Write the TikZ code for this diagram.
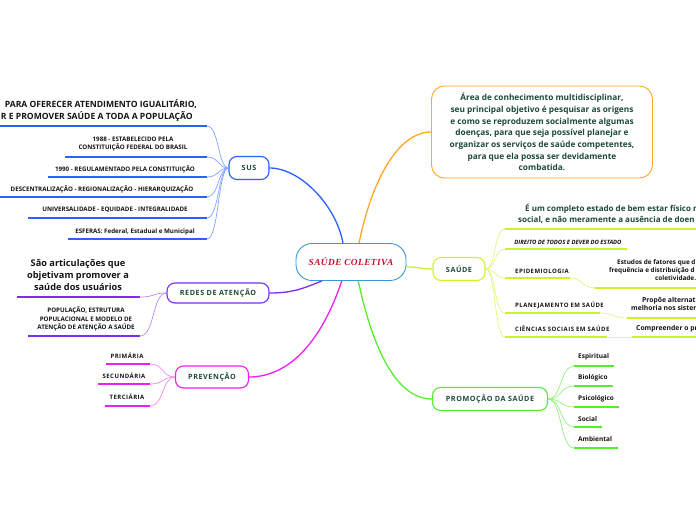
\documentclass[tikz,border=0pt]{standalone}
\usepackage{fontspec}
\setmainfont{Open Sans}
\newfontfamily\capsfont[LetterSpace=8]{Open Sans}
\newfontfamily\titlefont[LetterSpace=5]{Liberation Serif}
\definecolor{susblue}{HTML}{2B5FFF}
\definecolor{suslight}{HTML}{86A3FF}
\definecolor{redpurple}{HTML}{7A2EF0}
\definecolor{redlight}{HTML}{B48CF7}
\definecolor{prevmag}{HTML}{EE1EEE}
\definecolor{prevlight}{HTML}{F58CF5}
\definecolor{defnorange}{HTML}{FFA726}
\definecolor{saulime}{HTML}{CCF22A}
\definecolor{saulight}{HTML}{E0F77E}
\definecolor{promgreen}{HTML}{55EE2E}
\definecolor{promlight}{HTML}{96F27D}
\definecolor{rootblue}{HTML}{3C97D9}
\definecolor{rootred}{HTML}{C8102E}
\definecolor{deepgreen}{HTML}{1D4A38}
\definecolor{itemink}{HTML}{141414}

\begin{document}
\begin{tikzpicture}[x=1pt,y=-1pt,
  root/.style={draw=rootblue,line width=0.9pt,rounded corners=16pt,minimum width=110pt,minimum height=37pt,text=rootred,font=\titlefont\bfseries\itshape\fontsize{9.3}{11}\selectfont},
  topic/.style={rounded corners=8pt,line width=1.1pt,minimum height=22pt,inner xsep=2pt,text=deepgreen,font=\capsfont\bfseries\fontsize{7.2}{9}\selectfont},
  item/.style={text=itemink,align=center,inner sep=0pt,font=\bfseries\fontsize{6.2}{8.5}\selectfont},
  capsitem/.style={item,font=\capsfont\bfseries\fontsize{6}{8}\selectfont},
  leaf/.style={item,anchor=west,font=\bfseries\fontsize{6.5}{8}\selectfont},
  big/.style={text=deepgreen,align=center,inner sep=0pt,font=\bfseries\fontsize{8.6}{12.5}\selectfont},
  ul/.style={line width=1.8pt,draw=#1},
  br/.style={line width=0.7pt,draw=#1},
  main/.style={line width=1.3pt,draw=#1}]

\path[use as bounding box,fill=white] (0,0) rectangle (696,520);

% centre and main topics
\node[root] (root) at (351,262) {SAÚDE COLETIVA};
\node[topic,draw=susblue,minimum width=40pt,minimum height=23pt] (sus) at (249,168) {SUS};
\node[topic,draw=redpurple,minimum width=102pt,minimum height=20pt] (redes) at (218,293) {REDES DE ATENÇÃO};
\node[topic,draw=prevmag,minimum width=73pt] (prev) at (212,377) {PREVENÇÃO};
\node[topic,draw=saulime,minimum width=52pt,minimum height=23pt] (saude) at (459,269) {SAÚDE};
\node[topic,draw=promgreen,minimum width=115pt,minimum height=23pt] (promo) at (490,399) {PROMOÇÃO DA SAÚDE};
\node[big,draw=defnorange,line width=0.9pt,rounded corners=13pt,minimum width=221pt,minimum height=92pt,font=\bfseries\fontsize{8.3}{11.7}\selectfont] (defn) at (542,132)
  {Área de conhecimento multidisciplinar,\\seu principal objetivo é pesquisar as origens\\e como se reproduzem socialmente algumas\\doenças, para que seja possível planejar e\\organizar os serviços de saúde competentes,\\para que ela possa ser devidamente\\combatida.};

\draw[main=susblue] (root.113) .. controls (336,205) and (300,168) .. (sus.east);
\draw[main=defnorange] (root.67) .. controls (372,180) and (398,132) .. (defn.west);
\draw[main=saulime] (root.-5) .. controls (420,267) and (420,269) .. (saude.west);
\draw[main=redpurple] (root.213) .. controls (300,290) and (290,293) .. (redes.east);
\draw[main=prevmag] (root.244) .. controls (322,340) and (290,377) .. (prev.east);
\draw[main=promgreen] (root.291) .. controls (372,345) and (395,399) .. (promo.west);

% SUS: six items on the left
\node[big,text=itemink,align=right,anchor=east] (s1) at (197,110.5) {PARA OFERECER ATENDIMENTO IGUALITÁRIO,\\R E PROMOVER SAÚDE A TODA A POPULAÇÃO\hspace*{4pt}};
\node[item] (s2) at (133,144) {1988 - ESTABELECIDO PELA\\CONSTITUIÇÃO FEDERAL DO BRASIL};
\node[item] (s3) at (125,169) {1990 - REGULAMENTADO PELA CONSTITUIÇÃO};
\node[item] (s4) at (102,189) {DESCENTRALIZAÇÃO - REGIONALIZAÇÃO - HIERARQUIZAÇÃO};
\node[item] (s5) at (115,210) {UNIVERSALIDADE - EQUIDADE - INTEGRALIDADE};
\node[item] (s6) at (135,232) {ESFERAS: Federal, Estadual e Municipal};
\coordinate (s1a) at (-2,126); \coordinate (s1b) at (207,126);
\coordinate (s2a) at (65,157); \coordinate (s2b) at (207,157);
\coordinate (s3a) at (48,177); \coordinate (s3b) at (207,177);
\coordinate (s4a) at (-2,197); \coordinate (s4b) at (207,197);
\coordinate (s5a) at (28,218); \coordinate (s5b) at (207,218);
\coordinate (s6a) at (68,239); \coordinate (s6b) at (207,239);
\draw[ul=susblue] (s1a) -- (s1b); \draw[ul=susblue] (s2a) -- (s2b); \draw[ul=susblue] (s3a) -- (s3b);
\draw[ul=susblue] (s4a) -- (s4b); \draw[ul=susblue] (s5a) -- (s5b); \draw[ul=susblue] (s6a) -- (s6b);
\draw[br=suslight] (sus.west) .. controls (218,168) and (219,126) .. (s1b);
\draw[br=suslight] (sus.west) .. controls (218,168) and (219,157) .. (s2b);
\draw[br=suslight] (sus.west) .. controls (218,168) and (219,177) .. (s3b);
\draw[br=suslight] (sus.west) .. controls (218,168) and (219,197) .. (s4b);
\draw[br=suslight] (sus.west) .. controls (218,168) and (219,218) .. (s5b);
\draw[br=suslight] (sus.west) .. controls (218,168) and (219,239) .. (s6b);

% redes de atencao
\node[big,text=itemink,font=\bfseries\fontsize{9.2}{12}\selectfont] (r1) at (78,275) {São articulações que\\objetivam promover a\\saúde dos usuários};
\node[item] (r2) at (86,319) {POPULAÇÃO, ESTRUTURA\\POPULACIONAL E MODELO DE\\ATENÇÃO DE ATENÇÃO A SAÚDE};
\coordinate (r1a) at (17,297); \coordinate (r1b) at (140,297);
\coordinate (r2a) at (28,336); \coordinate (r2b) at (140,336);
\draw[ul=redpurple] (r1a) -- (r1b); \draw[ul=redpurple] (r2a) -- (r2b);
\draw[br=redlight] (redes.west) .. controls (152,293) and (155,297) .. (r1b);
\draw[br=redlight] (redes.west) .. controls (152,293) and (155,336) .. (r2b);

% prevencao
\node[capsitem] (p1) at (127,356) {PRIMÁRIA};
\node[capsitem] (p2) at (124,376) {SECUNDÁRIA};
\node[capsitem] (p3) at (127,397) {TERCIÁRIA};
\coordinate (p1a) at (106,364); \coordinate (p1b) at (150,364);
\coordinate (p2a) at (98,384); \coordinate (p2b) at (150,384);
\coordinate (p3a) at (105,406); \coordinate (p3b) at (150,406);
\draw[ul=prevmag] (p1a) -- (p1b); \draw[ul=prevmag] (p2a) -- (p2b); \draw[ul=prevmag] (p3a) -- (p3b);
\draw[br=prevlight] (prev.west) .. controls (162,377) and (164,364) .. (p1b);
\draw[br=prevlight] (prev.west) .. controls (162,377) and (164,384) .. (p2b);
\draw[br=prevlight] (prev.west) .. controls (162,377) and (164,406) .. (p3b);

% saude: items run off the right edge
\node[big,align=left,anchor=west,font=\bfseries\fontsize{8}{11}\selectfont] (a1) at (518,213.5) {\hspace*{7pt}É um completo estado de bem estar físico m\\social, e não meramente a ausência de doen};
\node[item,font=\bfseries\itshape\fontsize{5.9}{7}\selectfont] (a2) at (568,242) {DIREITO DE TODOS E DEVER DO ESTADO};
\node[capsitem,anchor=west] (a3) at (515,271) {EPIDEMIOLOGIA};
\node[capsitem,anchor=west] (a4) at (515,305) {PLANEJAMENTO EM SAÚDE};
\node[capsitem,anchor=west] (a5) at (515,329) {CIÊNCIAS SOCIAIS EM SAÚDE};
\node[item,align=left,anchor=west,font=\bfseries\fontsize{6.4}{8}\selectfont] (a3d) at (609,270) {\hspace*{8pt}Estudos de fatores que d\\frequência e distribuição d\\\hspace*{46pt}coletividade.};
\node[leaf,align=left,font=\bfseries\fontsize{6.8}{8}\selectfont] (a4d) at (631,304) {\hspace*{11pt}Propõe alternati\\melhoria nos sistem};
\node[leaf,font=\bfseries\fontsize{6.8}{8}\selectfont] (a5d) at (636,329) {Compreender o pro};
\coordinate (a1a) at (505,229); \coordinate (a1b) at (700,229);
\coordinate (a2a) at (505,249); \coordinate (a2b) at (627,249);
\coordinate (a3a) at (505,278); \coordinate (a3b) at (570,278);
\coordinate (a3c) at (595,288); \coordinate (a3e) at (700,288);
\coordinate (a4a) at (505,313); \coordinate (a4b) at (600,313);
\coordinate (a4c) at (627,318); \coordinate (a4e) at (700,318);
\coordinate (a5a) at (505,337); \coordinate (a5b) at (607,337);
\coordinate (a5c) at (632,337); \coordinate (a5e) at (700,337);
\draw[ul=saulime] (a1a) -- (a1b); \draw[ul=saulime] (a2a) -- (a2b);
\draw[ul=saulime] (a3a) -- (a3b); \draw[ul=saulime] (a3c) -- (a3e);
\draw[ul=saulime] (a4a) -- (a4b); \draw[ul=saulime] (a4c) -- (a4e);
\draw[ul=saulime] (a5a) -- (a5b); \draw[ul=saulime] (a5c) -- (a5e);
\draw[br=saulight] (saude.east) .. controls (496,269) and (494,229) .. (a1a);
\draw[br=saulight] (saude.east) .. controls (496,269) and (494,249) .. (a2a);
\draw[br=saulight] (saude.east) .. controls (496,269) and (494,278) .. (a3a);
\draw[br=saulight] (saude.east) .. controls (496,269) and (494,313) .. (a4a);
\draw[br=saulight] (saude.east) .. controls (496,269) and (494,337) .. (a5a);
\draw[br=saulight] (a3b) .. controls (583,278) and (582,288) .. (a3c);
\draw[br=saulight] (a4b) .. controls (614,313) and (613,318) .. (a4c);
\draw[br=saulight] (a5b) -- (a5c);

% promocao da saude
\node[leaf] (m1) at (578,357) {Espiritual};
\node[leaf] (m2) at (578,378) {Biológico};
\node[leaf] (m3) at (578,399) {Psicológico};
\node[leaf] (m4) at (578,419) {Social};
\node[leaf] (m5) at (578,439) {Ambiental};
\coordinate (m1a) at (574,366); \coordinate (m1b) at (614,366);
\coordinate (m2a) at (574,386); \coordinate (m2b) at (613,386);
\coordinate (m3a) at (574,407); \coordinate (m3b) at (619,407);
\coordinate (m4a) at (574,427); \coordinate (m4b) at (602,427);
\coordinate (m5a) at (574,448); \coordinate (m5b) at (618,448);
\draw[ul=promgreen] (m1a) -- (m1b); \draw[ul=promgreen] (m2a) -- (m2b); \draw[ul=promgreen] (m3a) -- (m3b);
\draw[ul=promgreen] (m4a) -- (m4b); \draw[ul=promgreen] (m5a) -- (m5b);
\draw[br=promlight] (promo.east) .. controls (562,399) and (560,366) .. (m1a);
\draw[br=promlight] (promo.east) .. controls (562,399) and (560,386) .. (m2a);
\draw[br=promlight] (promo.east) .. controls (562,399) and (560,407) .. (m3a);
\draw[br=promlight] (promo.east) .. controls (562,399) and (560,427) .. (m4a);
\draw[br=promlight] (promo.east) .. controls (562,399) and (560,448) .. (m5a);
\end{tikzpicture}
\end{document}
